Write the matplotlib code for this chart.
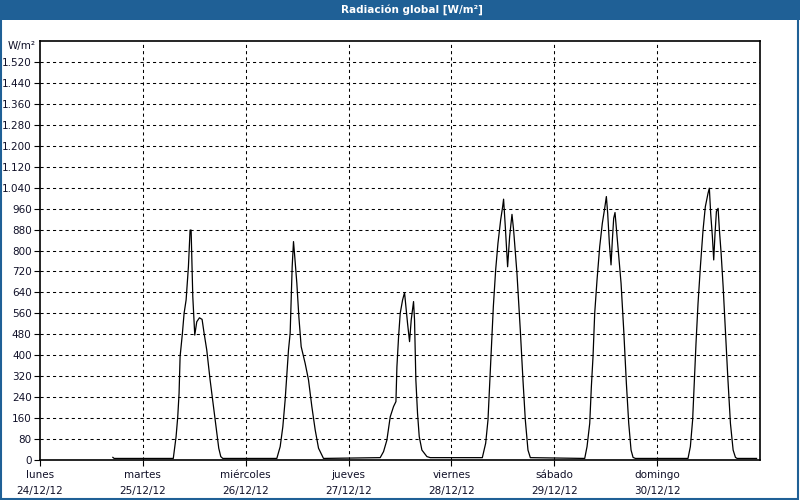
import numpy as np
import matplotlib.pyplot as plt
from matplotlib.patches import Rectangle
from matplotlib.ticker import FuncFormatter

# Radiación global, horas desde lunes 24/12/12 00:00
horas_24 = [17.0, 17.3]
rad_24 = [10, 6]
horas_25 = [31.1, 31.75, 32.14, 32.45, 32.69, 33.23, 33.62, 34.09, 34.63, 35.02, 35.26,
            35.65, 36.11, 36.58, 37.2, 37.82, 38.29, 38.91, 39.69, 40.47, 41.25, 41.71,
            42.18, 42.65]
rad_25 = [6, 89, 165, 255, 395, 484, 560, 611, 738, 878, 878,
          624, 477, 528, 543, 537, 484, 420, 306, 204, 102, 45,
          13, 6]
horas_26 = [55.26, 56.04, 56.66, 57.2, 57.98, 58.37, 58.6, 58.84, 59.15, 59.38, 59.93,
            60.4, 60.94, 61.87, 62.65, 63.43, 64.21, 64.99, 66.15]
rad_26 = [6, 51, 127, 229, 420, 484, 611, 738, 834, 789, 675,
          547, 433, 369, 306, 204, 115, 45, 6]
horas_27 = [79.38, 80.16, 80.94, 81.72, 82.49, 83.05, 83.28, 83.67, 84.05, 84.6, 85.06,
            85.45, 85.76, 86.23, 86.62, 87.01, 87.16, 87.39, 87.7, 88.09, 88.49, 89.11,
            90.28, 91.06]
rad_27 = [9, 32, 76, 165, 204, 223, 356, 471, 560, 611, 639,
          573, 522, 452, 535, 586, 605, 535, 306, 178, 89, 38,
          13, 9]
horas_28 = [103.21, 103.99, 104.53, 105.16, 105.78, 106.32, 106.86, 107.49, 107.95, 108.17,
            108.57, 109.11, 109.58, 110.13, 110.51, 111.29, 112.07, 112.69, 113.24, 113.86,
            114.41]
rad_28 = [9, 64, 153, 369, 586, 726, 828, 917, 967, 996,
          891, 738, 853, 938, 878, 713, 496, 306, 153, 38,
          9]
horas_29 = [127.1, 127.64, 128.27, 128.65, 129.04, 129.43, 129.97, 130.6, 131.21, 131.76,
            132.15, 132.46, 132.85, 133.24, 133.55, 133.86, 134.17, 134.48, 135.03, 135.58,
            136.2, 136.82, 137.37, 137.91, 138.38, 138.93]
rad_29 = [6, 51, 140, 280, 395, 560, 687, 815, 904, 961,
          1006, 942, 828, 745, 840, 923, 945, 885, 777, 675,
          496, 293, 140, 38, 10, 6]
horas_30 = [151.2, 151.75, 152.28, 152.68, 153.07, 153.54, 154.09, 154.71, 155.24, 155.88,
            156.18, 156.49, 156.89, 157.2, 157.51, 157.83, 158.22, 158.53, 158.93, 159.4,
            159.93, 160.48, 161.1, 161.73, 162.27, 162.66, 167.2]
rad_30 = [6, 51, 153, 306, 446, 598, 738, 878, 967, 1019,
          1038, 942, 853, 764, 866, 949, 961, 878, 789, 662,
          496, 318, 140, 38, 10, 6, 6]

dias = ['lunes', 'martes', 'miércoles', 'jueves', 'viernes', 'sábado', 'domingo']
fechas = ['24/12/12', '25/12/12', '26/12/12', '27/12/12', '28/12/12', '29/12/12', '30/12/12']
y_ticks = list(range(0, 1521, 80))

horas = horas_24 + horas_25 + horas_26 + horas_27 + horas_28 + horas_29 + horas_30
rad = rad_24 + rad_25 + rad_26 + rad_27 + rad_28 + rad_29 + rad_30

azul = '#1f6096'
texto = '#101028'
plt.rcParams['font.family'] = ['DejaVu Sans']

fig = plt.figure(figsize=(8, 5), dpi=100)
fig.patch.set_facecolor('white')

# barra de título y marco
fig.patches.append(Rectangle((0, 1 - 20 / 500), 1, 20 / 500, transform=fig.transFigure,
                             facecolor=azul, edgecolor='none', zorder=0))
fig.patches.append(Rectangle((0.001, 0.002), 0.997, 0.996, transform=fig.transFigure,
                             facecolor='none', edgecolor=azul, linewidth=1.5, zorder=0))
fig.text(0.515, 1 - 10 / 500, 'Radiación global [W/m²]', color='white', fontsize=7.5,
         fontweight='bold', ha='center', va='center')

ax = fig.add_axes([40 / 800, 40 / 500, 720 / 800, 419 / 500])
ax.plot(horas, rad, color='black', linewidth=0.9)

ax.set_xlim(0, 168)
ax.set_ylim(0, 1600)
ax.set_yticks(y_ticks)
ax.yaxis.set_major_formatter(FuncFormatter(lambda v, p: f'{int(v):,}'.replace(',', '.')))
ax.set_xticks([24 * i for i in range(7)])
ax.set_xticklabels([f'{d}\n{f}' for d, f in zip(dias, fechas)], linespacing=1.75)
ax.tick_params(labelsize=7.5, length=4, width=0.8, color='black', labelcolor=texto, pad=2)
ax.tick_params(axis='x', pad=3)

for v in y_ticks[1:]:
    ax.axhline(v, color='black', linewidth=0.75, dashes=(3, 3), zorder=0)
for i in range(1, 7):
    ax.axvline(24 * i, color='black', linewidth=0.75, dashes=(3, 3), zorder=0)

for s in ax.spines.values():
    s.set_linewidth(1.2)

fig.text(36 / 800, 1 - 46 / 500, 'W/m²', fontsize=7.5, color=texto, ha='right', va='center')

plt.savefig('out.png', dpi=100)
